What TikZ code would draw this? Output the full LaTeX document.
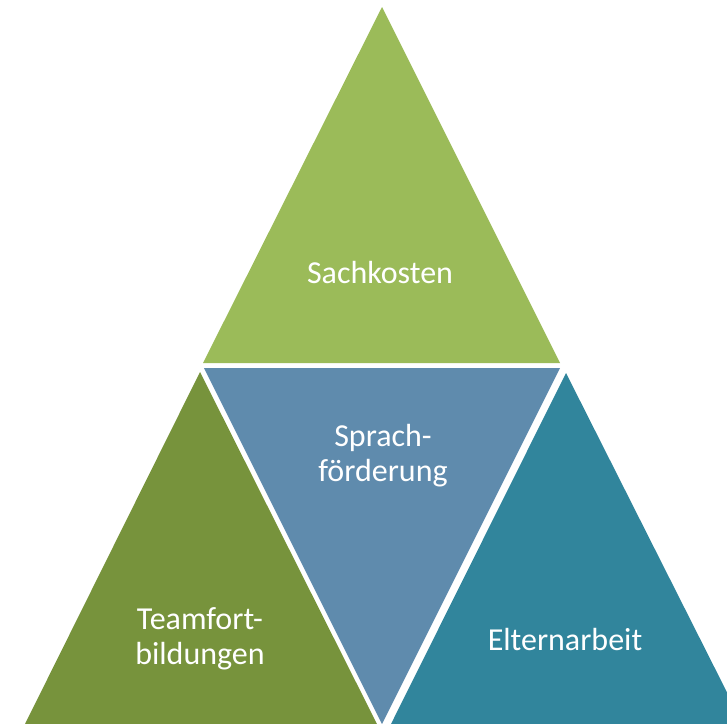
\documentclass[tikz,border=0pt]{standalone}
\usepackage{fontspec}
\setmainfont{Carlito}
\definecolor{cTop}{HTML}{9BBB59}
\definecolor{cLeft}{HTML}{77933C}
\definecolor{cMid}{HTML}{5F8BAD}
\definecolor{cRight}{HTML}{31859C}
\tikzset{
  tri/.style={draw=none},
  lbl/.style={text=white, font=\fontsize{32}{35}\selectfont, align=center, inner sep=0pt}
}
\begin{document}
\begin{tikzpicture}[x=1pt,y=-1pt]
\useasboundingbox (0,0) rectangle (727,723);
\clip (0,0) rectangle (727,723);
\fill[tri, cTop] (382,7) -- (203,363) -- (560,363) -- cycle;
\fill[tri, cLeft] (200,372) -- (24,726) -- (378,726) -- cycle;
\fill[tri, cMid] (204,368) -- (560,368) -- (382,724) -- cycle;
\fill[tri, cRight] (566,373) -- (389,728) -- (745,728) -- cycle;
\node[lbl] (sach) at (380,273) {Sachkosten};
\node[lbl] (sprach) at (383,456) {Sprach-\\förderung};
\node[lbl] (team) at (200,639) {Teamfort-\\bildungen};
\node[lbl] (eltern) at (565,639) {Elternarbeit};
\end{tikzpicture}
\end{document}
